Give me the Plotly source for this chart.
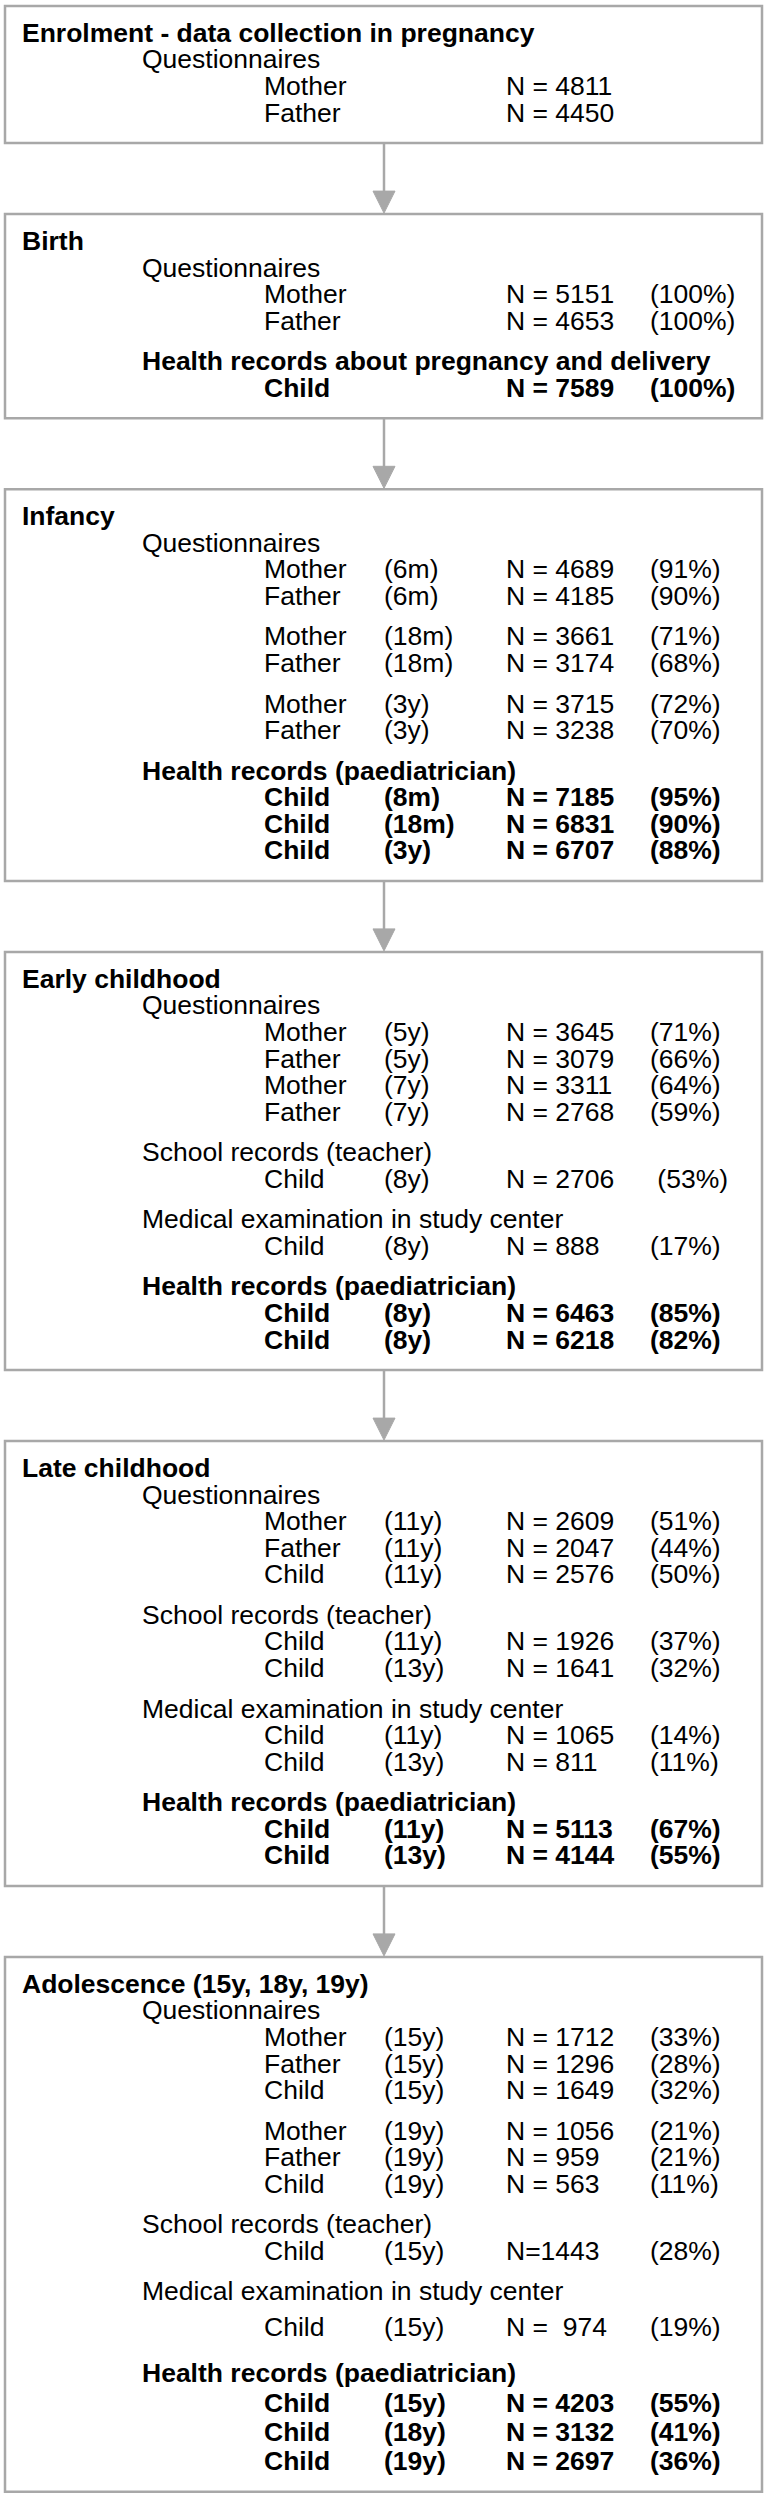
import plotly.graph_objects as go

# ---------------- data ----------------
stage_titles = [
    "Enrolment - data collection in pregnancy",
    "Birth",
    "Infancy",
    "Early childhood",
    "Late childhood",
    "Adolescence (15y, 18y, 19y)",
]

Q = "Questionnaires"
S = "School records (teacher)"
M = "Medical examination in study center"
H = "Health records (paediatrician)"
HB = "Health records about pregnancy and delivery"

row_stage = [0, 0,
             1, 1, 1,
             2, 2, 2, 2, 2, 2, 2, 2, 2,
             3, 3, 3, 3, 3, 3, 3, 3,
             4, 4, 4, 4, 4, 4, 4, 4, 4,
             5, 5, 5, 5, 5, 5, 5, 5, 5, 5, 5]
row_source = [Q, Q,
              Q, Q, HB,
              Q, Q, Q, Q, Q, Q, H, H, H,
              Q, Q, Q, Q, S, M, H, H,
              Q, Q, Q, S, S, M, M, H, H,
              Q, Q, Q, Q, Q, Q, S, M, H, H, H]
row_block = [0, 0,
             0, 0, 1,
             0, 0, 1, 1, 2, 2, 3, 3, 3,
             0, 0, 0, 0, 1, 2, 3, 3,
             0, 0, 0, 1, 1, 2, 2, 3, 3,
             0, 0, 0, 1, 1, 1, 2, 3, 4, 4, 4]
row_who = ["Mother", "Father",
           "Mother", "Father", "Child",
           "Mother", "Father", "Mother", "Father", "Mother", "Father", "Child", "Child", "Child",
           "Mother", "Father", "Mother", "Father", "Child", "Child", "Child", "Child",
           "Mother", "Father", "Child", "Child", "Child", "Child", "Child", "Child", "Child",
           "Mother", "Father", "Child", "Mother", "Father", "Child", "Child", "Child", "Child", "Child", "Child"]
row_age = ["", "",
           "", "", "",
           "6m", "6m", "18m", "18m", "3y", "3y", "8m", "18m", "3y",
           "5y", "5y", "7y", "7y", "8y", "8y", "8y", "8y",
           "11y", "11y", "11y", "11y", "13y", "11y", "13y", "11y", "13y",
           "15y", "15y", "15y", "19y", "19y", "19y", "15y", "15y", "15y", "18y", "19y"]
row_n = [4811, 4450,
         5151, 4653, 7589,
         4689, 4185, 3661, 3174, 3715, 3238, 7185, 6831, 6707,
         3645, 3079, 3311, 2768, 2706, 888, 6463, 6218,
         2609, 2047, 2576, 1926, 1641, 1065, 811, 5113, 4144,
         1712, 1296, 1649, 1056, 959, 563, 1443, 974, 4203, 3132, 2697]
row_pct = [None, None,
           100, 100, 100,
           91, 90, 71, 68, 72, 70, 95, 90, 88,
           71, 66, 64, 59, 53, 17, 85, 82,
           51, 44, 50, 37, 32, 14, 11, 67, 55,
           33, 28, 32, 21, 21, 11, 28, 19, 55, 41, 36]
bold_sources = [H, HB]
n_label_override = {1443: "N=1443", 974: "N =  974"}
pct_label_override = {2706: " (53%)"}

# ---------------- layout ----------------
W, HGT = 767, 2500
FONT = "Liberation Sans, Arial, sans-serif"
FS = 26.5
BORDER = "#a8a8a8"
X_TITLE, X_HEAD, X_WHO, X_AGE, X_N, X_PCT = 20, 140, 262, 382, 504, 648
BOX_X0, BOX_X1 = 5, 762
ARROW_X = 384
L, G = 26.6, 40.5
TOP_OFF, BOT_OFF, BOX_GAP = 26.8, 30.5, 71

fig = go.Figure()
fig.add_trace(go.Scatter(x=[0, W], y=[0, HGT], mode="markers",
                         marker=dict(opacity=0), hoverinfo="skip", showlegend=False))

annotations = []
shapes = []


def add_text(x, y, text, bold=False):
    annotations.append(dict(
        x=x, y=y, xref="x", yref="y", text=("<b>%s</b>" % text) if bold else text,
        showarrow=False, xanchor="left", yanchor="middle",
        font=dict(family=FONT, size=FS, color="#000000")))


top = 6.0
prev_bottom = None
for si, title in enumerate(stage_titles):
    if prev_bottom is not None:
        top = prev_bottom + BOX_GAP
        # connector arrow
        shapes.append(dict(type="line", xref="x", yref="y", x0=ARROW_X, x1=ARROW_X,
                           y0=prev_bottom, y1=top - 20, line=dict(color=BORDER, width=2.5)))
        shapes.append(dict(type="path", xref="x", yref="y",
                           path="M %f %f L %f %f L %f %f Z" % (ARROW_X - 11, top - 23, ARROW_X + 11, top - 23, ARROW_X, top - 1),
                           fillcolor=BORDER, line=dict(color=BORDER, width=1)))
    y = top + TOP_OFF
    add_text(X_TITLE, y, title, bold=True)
    idx = [i for i, s in enumerate(row_stage) if s == si]
    last_src, last_blk = None, None
    for i in idx:
        src = row_source[i]
        bold = src in bold_sources
        # adolescence health block is set with looser spacing in the original
        step = 29.3 if (si == 5 and src == H) else L
        if src != last_src:
            if last_src is None:
                y += L
            elif si == 5 and src == H:
                y += 46
            else:
                y += G
            add_text(X_HEAD, y, src, bold=bold)
            y += 36 if (si == 5 and src == M) else step
        elif row_block[i] != last_blk:
            y += G
        else:
            y += step
        add_text(X_WHO, y, row_who[i], bold=bold)
        if row_age[i]:
            add_text(X_AGE, y, "(%s)" % row_age[i], bold=bold)
        ntxt = n_label_override.get(row_n[i], "N = %d" % row_n[i])
        add_text(X_N, y, ntxt, bold=bold)
        if row_pct[i] is not None:
            ptxt = pct_label_override.get(row_n[i], "(%d%%)" % row_pct[i])
            add_text(X_PCT, y, ptxt, bold=bold)
        last_src, last_blk = src, row_block[i]
    bottom = y + BOT_OFF
    shapes.append(dict(type="rect", xref="x", yref="y", x0=BOX_X0, x1=BOX_X1, y0=top, y1=bottom,
                       line=dict(color=BORDER, width=2.5), fillcolor="rgba(0,0,0,0)", layer="below"))
    prev_bottom = bottom

fig.update_layout(
    width=W, height=HGT,
    margin=dict(l=0, r=0, t=0, b=0),
    paper_bgcolor="white", plot_bgcolor="white",
    xaxis=dict(range=[0, W], visible=False, fixedrange=True),
    yaxis=dict(range=[HGT, 0], visible=False, fixedrange=True),
    annotations=annotations, shapes=shapes, showlegend=False,
)

fig.write_html("out.html", config={"displayModeBar": False},
               post_script="document.body.style.margin='0';")
